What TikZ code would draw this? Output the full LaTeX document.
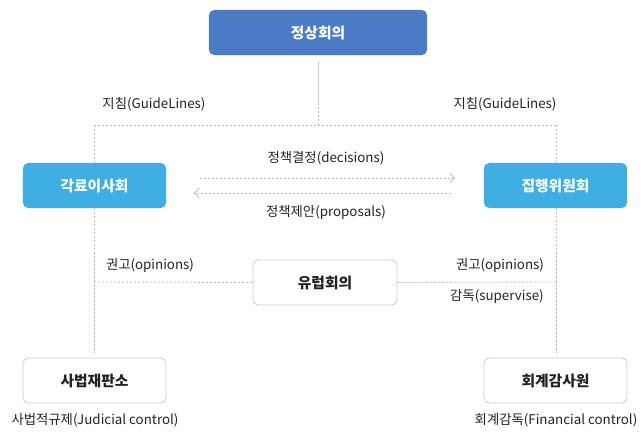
\documentclass[tikz,border=0pt]{standalone}
\usepackage{fontspec}
\setmainfont{Noto Sans CJK KR}
\usetikzlibrary{arrows.meta}
\definecolor{summitBlue}{HTML}{4B7BC6}
\definecolor{councilBlue}{HTML}{3EAEE3}
\definecolor{linkGray}{HTML}{BEBEBE}
\definecolor{frameGray}{HTML}{CDCDCD}
\definecolor{labelGray}{HTML}{222222}
\tikzset{
summit box/.style={rounded corners=1.3mm, fill=summitBlue, text=white, font=\fontsize{10.5}{12}\selectfont\bfseries, minimum width=5.45cm, minimum height=1.125cm},
council box/.style={rounded corners=1.3mm, fill=councilBlue, text=white, font=\fontsize{10.5}{12}\selectfont\bfseries, minimum width=3.575cm, minimum height=1.125cm},
plain box/.style={rounded corners=1.3mm, draw=frameGray, line width=0.6pt, fill=white, text=labelGray, font=\fontsize{10.5}{12}\selectfont\bfseries, minimum width=3.575cm, minimum height=1.125cm},
link label/.style={text=labelGray, font=\fontsize{9.5}{11}\selectfont, inner sep=1pt},
dashed link/.style={linkGray, line width=0.6pt, dash pattern=on 0.55mm off 0.45mm},
flow link/.style={dashed link, -{Straight Barb[length=1.2mm,width=2.6mm,line width=0.6pt]}},
}
\begin{document}
\begin{tikzpicture}[x=0.025cm,y=-0.025cm]
        \useasboundingbox (0,0) rectangle (644,440);
        % boxes
        \node[summit box] (summit) at (318,32.5) {정상회의};
        \node[council box] (council) at (94.5,185.5) {각료이사회};
        \node[council box] (commission) at (555.5,185.5) {집행위원회};
        \node[plain box, minimum width=3.6cm] (parliament) at (325,282.5) {유럽회의};
        \node[plain box] (court) at (94.5,380.5) {사법재판소};
        \node[plain box] (auditors) at (555.5,380.5) {회계감사원};
        % joints of the dashed tree
        \coordinate (top) at (318,125);
        \coordinate (topL) at (94,125);
        \coordinate (topR) at (556,125);
        \coordinate (midL) at (94,282);
        \coordinate (midR) at (556,282);
        \coordinate (lowL) at (94,353);
        \coordinate (lowR) at (556,353);
        \draw[dashed link] ([yshift=-1.8mm]summit.south) -- (top);
        \draw[dashed link] (topL) -- (topR);
        \draw[dashed link] (topL) -- (topL |- council.north);
        \draw[dashed link] (topR) -- (topR |- commission.north);
        \draw[dashed link] (topL |- council.south) -- (lowL);
        \draw[dashed link] (topR |- commission.south) -- (lowR);
        \draw[dashed link] (midL) -- (parliament.west);
        \draw[dashed link] (parliament.east) -- (midR);
        % decisions and proposals
        \coordinate (decA) at (200,178);
        \coordinate (decB) at (455,178);
        \coordinate (propA) at (451,193);
        \coordinate (propB) at (194,193);
        \draw[flow link] (decA) -- (decB);
        \draw[flow link] (propA) -- (propB);
        % labels
        \node[link label] (guideL) at (154,104) {지침(GuideLines)};
        \node[link label] (guideR) at (505,104) {지침(GuideLines)};
        \node[link label] (decisions) at (326,158) {정책결정(decisions)};
        \node[link label] (proposals) at (326,213) {정책제안(proposals)};
        \node[link label] (opinionL) at (150,266) {권고(opinions)};
        \node[link label] (opinionR) at (500,266) {권고(opinions)};
        \node[link label] (supervise) at (497,297) {감독(supervise)};
        \node[link label] (judicial) at (95,420) {사법적규제(Judicial control)};
        \node[link label] (financial) at (556,420) {회계감독(Financial control)};
    \end{tikzpicture}
\end{document}
